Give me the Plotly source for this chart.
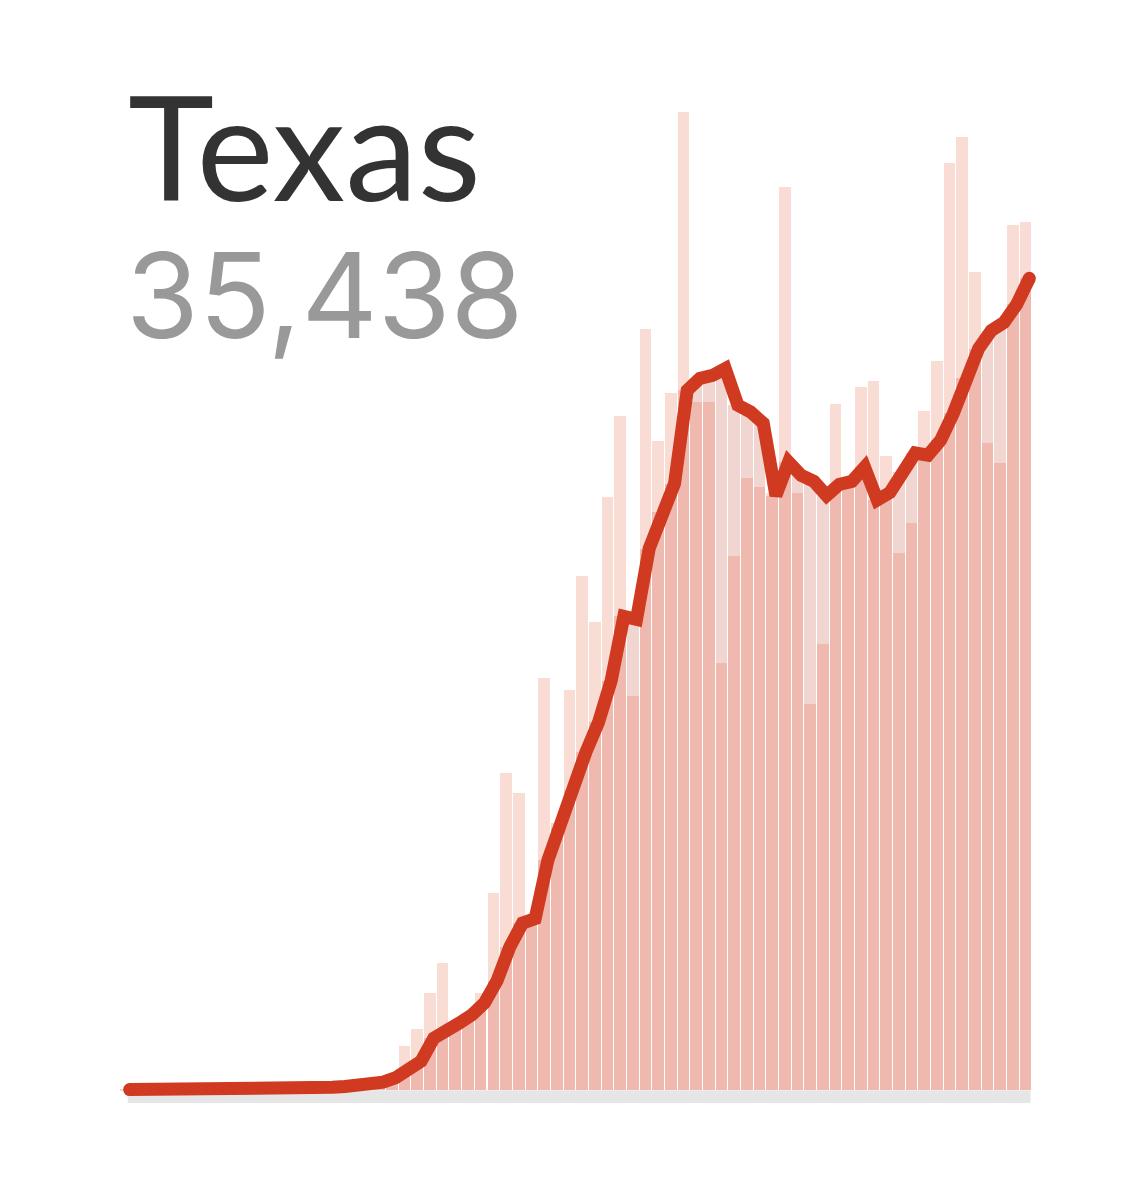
import plotly.graph_objects as go

# ---------------- data ----------------
days = list(range(72))  # day index of each bar
daily_cases = [0, 0, 0, 0, 1, 0, 0, 0, 0, 0, 1, 1, 2, 1, 3, 4, 5, 6, 8, 12, 17, 21,
               59, 82, 130, 170, 91, 101, 130, 264, 425, 399, 221, 553, 351, 537,
               689, 628, 795, 903, 528, 1020, 870, 935, 1311, 923, 923, 572, 716,
               821, 808, 800, 1210, 800, 517, 598, 919, 811, 943, 950, 850, 720,
               760, 910, 977, 1242, 1278, 1097, 868, 840, 1160, 1163]
avg_cases = [1, 1, 1, 1, 1, 1, 1, 0, 0, 1, 1, 1, 1, 1, 2, 3, 4, 5, 7, 8, 11, 17,
             27, 39, 70, 78, 90, 101, 117, 147, 192, 224, 230, 308, 358, 403,
             453, 493, 549, 635, 631, 726, 775, 813, 938, 954, 958, 967, 918,
             909, 894, 797, 842, 824, 816, 797, 812, 816, 835, 791, 801, 829,
             854, 851, 871, 907, 954, 994, 1018, 1029, 1053, 1088]
state_name = "Texas"
total_label = "35,438"

# ---------------- style ----------------
OFF = 8  # page body margin
W, H = 1109, 1170
L, R, T, B = 109.0, 75.2, 92.0, 75.3
X_RANGE = [-1, 72]
Y_RANGE = [-17, 1327]
STRIP = 17
LIGHT = "#F9DCD4"
GRAYISH = "#F0D5D1"
DARK = "#F0B9AF"
LINE = "#CF3A20"
LINE_W = 13

overlap = [min(d, a) for d, a in zip(daily_cases, avg_cases)]
upper = [max(d, a) for d, a in zip(daily_cases, avg_cases)]
upper_colors = [LIGHT if d >= a else GRAYISH for d, a in zip(daily_cases, avg_cases)]

fig = go.Figure()
fig.add_trace(go.Bar(x=days, y=upper, width=0.92, offset=-0.76,
                     marker=dict(color=upper_colors, line=dict(width=0)),
                     hoverinfo="skip", showlegend=False))
fig.add_trace(go.Bar(x=days, y=overlap, width=0.92, offset=-0.76,
                     marker=dict(color=DARK, line=dict(width=0)),
                     hoverinfo="skip", showlegend=False))
fig.add_trace(go.Scatter(x=days, y=avg_cases, mode="lines",
                         line=dict(color=LINE, width=LINE_W),
                         hoverinfo="skip", showlegend=False))
fig.add_trace(go.Scatter(x=[days[0], days[-1]], y=[avg_cases[0], avg_cases[-1]],
                         mode="markers", marker=dict(color=LINE, size=LINE_W),
                         hoverinfo="skip", showlegend=False))

fig.add_shape(type="rect", xref="x", yref="y",
              x0=days[0] - 0.15, x1=days[-1] + 0.1, y0=-STRIP, y1=0,
              fillcolor="#E6E6E6", line=dict(width=0), layer="below")

pw = W - L - R
ph = H - T - B


def px_x(px):
    return (px - OFF - L) / pw


def px_y(py):
    return (H - B - (py - OFF)) / ph


fig.add_annotation(text=state_name, xref="paper", yref="paper",
                   x=px_x(126), y=px_y(55), xanchor="left", yanchor="top",
                   showarrow=False,
                   font=dict(family="Lato", size=146, color="#333333"))
fig.add_annotation(text=total_label, xref="paper", yref="paper",
                   x=px_x(124), y=px_y(222), xanchor="left", yanchor="top",
                   showarrow=False,
                   font=dict(family="Inter", size=118, color="#999999"))

fig.update_layout(width=W, height=H,
                  margin=dict(l=L, r=R, t=T, b=B, pad=0),
                  paper_bgcolor="white", plot_bgcolor="white",
                  barmode="overlay", bargap=0,
                  xaxis=dict(range=X_RANGE, visible=False, fixedrange=True),
                  yaxis=dict(range=Y_RANGE, visible=False, fixedrange=True))

fig.write_html("out.html")
